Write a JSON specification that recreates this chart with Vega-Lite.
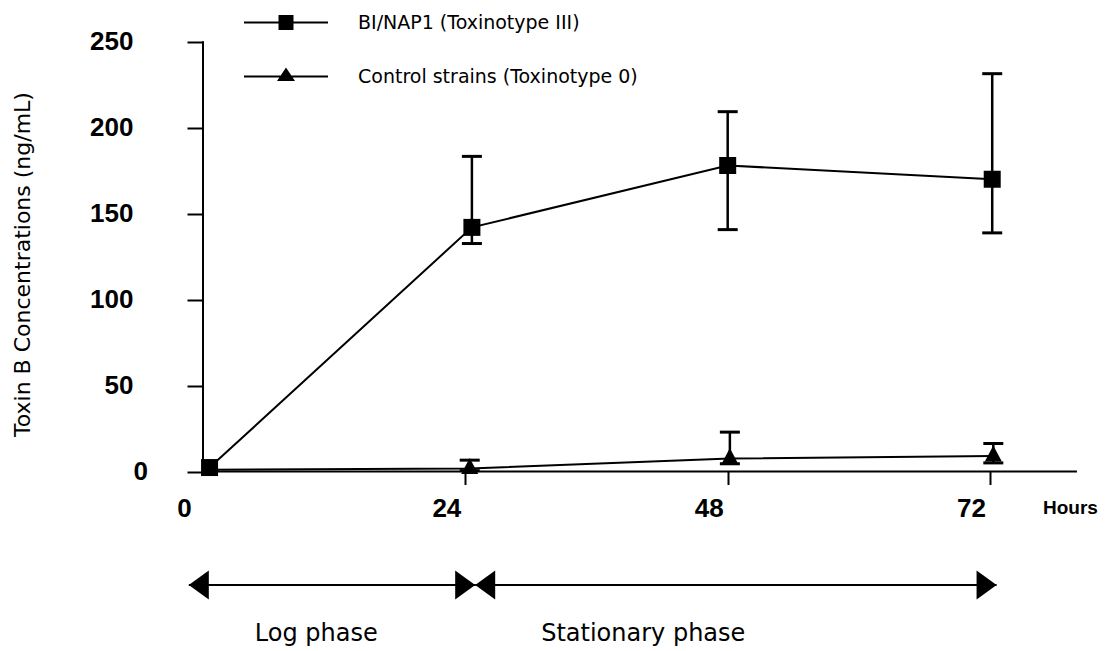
{
  "$schema": "https://vega.github.io/schema/vega-lite/v6.json",
  "width": 1116,
  "height": 651,
  "autosize": "none",
  "padding": 0,
  "background": "white",
  "config": {"view": {"stroke": null}},
  "datasets": {
    "toxin": [
      {"strain": "Control strains (Toxinotype 0)", "hour": 0.6, "toxin": 1.0, "lo": null, "hi": null},
      {"strain": "Control strains (Toxinotype 0)", "hour": 24.4, "toxin": 1.7, "lo": 0.5, "hi": 6.6},
      {"strain": "Control strains (Toxinotype 0)", "hour": 48.2, "toxin": 7.5, "lo": 4.5, "hi": 22.9},
      {"strain": "Control strains (Toxinotype 0)", "hour": 72.3, "toxin": 9.0, "lo": 5.0, "hi": 16.3},
      {"strain": "BI/NAP1 (Toxinotype III)", "hour": 0.6, "toxin": 2.3, "lo": null, "hi": null},
      {"strain": "BI/NAP1 (Toxinotype III)", "hour": 24.6, "toxin": 142, "lo": 132.6, "hi": 183.3},
      {"strain": "BI/NAP1 (Toxinotype III)", "hour": 48.0, "toxin": 178, "lo": 140.7, "hi": 209.3},
      {"strain": "BI/NAP1 (Toxinotype III)", "hour": 72.2, "toxin": 170, "lo": 138.8, "hi": 231.4}
    ],
    "phases": [
      {"phase": "Log phase", "start": -1.3, "end": 24.9},
      {"phase": "Stationary phase", "start": 24.9, "end": 72.6}
    ]
  },
  "layer": [
    {
      "data": {"name": "toxin"},
      "mark": {"type": "line", "color": "black", "strokeWidth": 2},
      "encoding": {
        "x": {
          "field": "hour", "type": "quantitative",
          "scale": {"domain": [-18.571, 83.524], "nice": false, "zero": false},
          "axis": {
            "values": [0, 24, 48, 72], "domain": false, "grid": false, "offset": -179.5,
            "ticks": true, "tickSize": 13, "tickWidth": 2,
            "tickColor": {"condition": {"test": "datum.value === 0", "value": "transparent"}, "value": "black"},
            "labels": true, "labelFont": "Liberation Sans", "labelFontSize": 26, "labelFontWeight": "bold", "labelColor": "black",
            "labelPadding": 11, "labelOffset": -19, "labelFlush": false, "labelOverlap": false,
            "title": "Hours", "titleFont": "Liberation Sans", "titleFontSize": 19, "titleFontWeight": "bold", "titleColor": "black",
            "titleX": 1070, "titleY": 36, "titleAlign": "center", "titleBaseline": "middle"
          }
        },
        "y": {
          "field": "toxin", "type": "quantitative",
          "scale": {"domain": [-104.41, 274.26], "nice": false, "zero": false},
          "axis": {
            "values": [0, 50, 100, 150, 200, 250], "domain": false, "grid": false, "offset": -203,
            "ticks": true, "tickSize": 16, "tickWidth": 2, "tickColor": "black",
            "labels": true, "labelFont": "Liberation Sans", "labelFontSize": 26, "labelFontWeight": "bold", "labelColor": "black",
            "labelPadding": 54, "labelFlush": false, "labelOverlap": false,
            "labelAlign": {"condition": {"test": "datum.value === 0", "value": "left"}, "value": "right"},
            "title": "Toxin B Concentrations (ng/mL)", "titleFont": "DejaVu Sans", "titleFontSize": 22, "titleFontWeight": "normal", "titleColor": "black",
            "titleX": -181, "titleY": 264, "titleAngle": -90, "titleAlign": "center", "titleBaseline": "middle"
          }
        },
        "detail": {"field": "strain", "type": "nominal"}
      }
    },
    {
      "data": {"values": [{}]},
      "mark": {"type": "rule", "color": "black", "strokeWidth": 2},
      "encoding": {
        "x": {"datum": 0, "type": "quantitative"},
        "y": {"datum": 0, "type": "quantitative"},
        "y2": {"datum": 250.2}
      }
    },
    {
      "data": {"values": [{}]},
      "mark": {"type": "rule", "color": "black", "strokeWidth": 2},
      "encoding": {
        "x": {"datum": 0, "type": "quantitative"},
        "x2": {"datum": 79.95},
        "y": {"datum": 0, "type": "quantitative"}
      }
    },
    {
      "data": {"name": "toxin"},
      "transform": [{"filter": "datum.hi != null"}],
      "mark": {"type": "rule", "color": "black", "strokeWidth": 2.5},
      "encoding": {
        "x": {"field": "hour", "type": "quantitative"},
        "y": {"field": "lo", "type": "quantitative"},
        "y2": {"field": "hi"}
      }
    },
    {
      "data": {"name": "toxin"},
      "transform": [{"filter": "datum.hi != null"}],
      "mark": {"type": "tick", "orient": "horizontal", "color": "black", "size": 20, "thickness": 3, "opacity": 1},
      "encoding": {
        "x": {"field": "hour", "type": "quantitative"},
        "y": {"field": "hi", "type": "quantitative"}
      }
    },
    {
      "data": {"name": "toxin"},
      "transform": [{"filter": "datum.lo != null"}],
      "mark": {"type": "tick", "orient": "horizontal", "color": "black", "size": 20, "thickness": 3, "opacity": 1},
      "encoding": {
        "x": {"field": "hour", "type": "quantitative"},
        "y": {"field": "lo", "type": "quantitative"}
      }
    },
    {
      "data": {"name": "toxin"},
      "mark": {"type": "point", "filled": true, "color": "black", "opacity": 1, "size": 289},
      "encoding": {
        "x": {"field": "hour", "type": "quantitative"},
        "y": {"field": "toxin", "type": "quantitative"},
        "shape": {"condition": {"test": "datum.strain === 'BI/NAP1 (Toxinotype III)'", "value": "square"}, "value": "M0,-1.25L1,0.65L-1,0.65Z"}
      }
    },
    {
      "data": {"name": "toxin"},
      "mark": {"type": "point", "filled": true, "color": "black", "opacity": 0, "size": 225},
      "encoding": {
        "x": {"field": "hour", "type": "quantitative"},
        "y": {"field": "toxin", "type": "quantitative"},
        "shape": {
          "field": "strain", "type": "nominal",
          "scale": {
            "domain": ["BI/NAP1 (Toxinotype III)", "Control strains (Toxinotype 0)"],
            "range": ["M-5.6,-0.133H5.6V0.133H-5.6ZM-1,-1H1V1H-1Z", "M-5.6,-0.133H5.6V0.133H-5.6ZM0,-1.2L1.2,0.6H-1.2Z"]
          },
          "legend": {
            "orient": "none", "legendX": 276.5, "legendY": 13, "title": null, "padding": 0, "offset": 0,
            "symbolSize": 225, "symbolFillColor": "black", "symbolStrokeColor": "transparent", "symbolStrokeWidth": 0, "symbolOpacity": 1,
            "labelFont": "DejaVu Sans", "labelFontSize": 19, "labelColor": "black", "labelOffset": 62.5, "labelLimit": 500,
            "rowPadding": 34
          }
        }
      }
    },
    {
      "data": {"name": "phases"},
      "mark": {"type": "rule", "color": "black", "strokeWidth": 2},
      "encoding": {
        "x": {"field": "start", "type": "quantitative"},
        "x2": {"field": "end"},
        "y": {"datum": -66, "type": "quantitative"}
      }
    },
    {
      "data": {"name": "phases"},
      "mark": {"type": "point", "filled": true, "color": "black", "opacity": 1, "size": 400, "shape": "M0,0L2,-1.45L2,1.45Z"},
      "encoding": {
        "x": {"field": "start", "type": "quantitative"},
        "y": {"datum": -66, "type": "quantitative"}
      }
    },
    {
      "data": {"name": "phases"},
      "mark": {"type": "point", "filled": true, "color": "black", "opacity": 1, "size": 400, "shape": "M0,0L-2,-1.45L-2,1.45Z"},
      "encoding": {
        "x": {"field": "end", "type": "quantitative"},
        "y": {"datum": -66, "type": "quantitative"}
      }
    },
    {
      "data": {"name": "phases"},
      "mark": {"type": "text", "font": "DejaVu Sans", "fontSize": 24, "align": "left", "baseline": "middle", "dx": 66, "color": "black"},
      "encoding": {
        "x": {"field": "start", "type": "quantitative"},
        "y": {"datum": -94.5, "type": "quantitative"},
        "text": {"field": "phase", "type": "nominal"}
      }
    }
  ]
}
